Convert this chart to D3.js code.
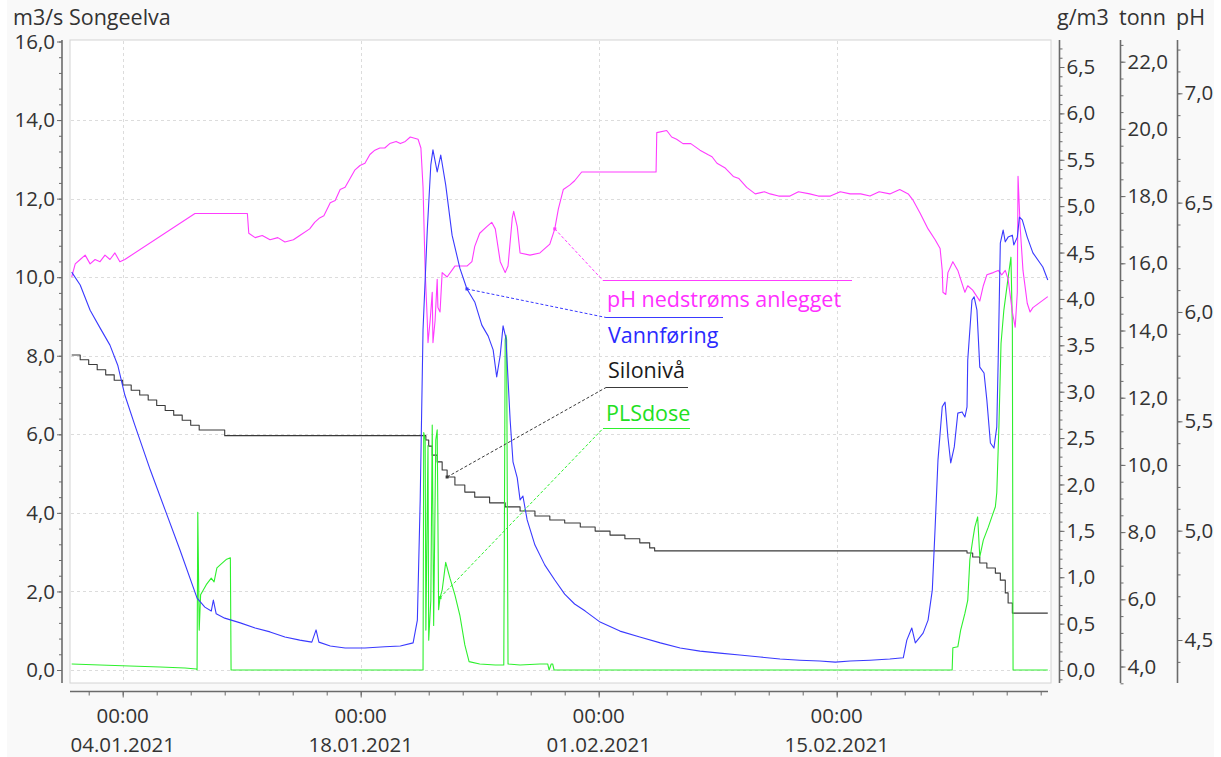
<!DOCTYPE html>
<html>
<head>
<meta charset="utf-8">
<script src="https://cdn.jsdelivr.net/npm/d3@7"></script>
<style>
  html, body { margin: 0; padding: 0; background: #ffffff; }
  svg { display: block; font-family: "Open Sans", "Noto Sans", sans-serif; }
</style>
</head>
<body>
<svg id="chart" width="1221" height="757"></svg>
<script>
// ---- Data: Songeelva, 01.01.2021 - 27.02.2021 (time "DD.MM HH", value) ----
const vannforing = [ // m3/s
  ["01.01 00",10.13],["01.01 12",9.80],["02.01 02",9.16],["02.01 16",8.71],["03.01 06",8.27],["03.01 17",7.76],
  ["04.01 03",7.00],["04.01 17",6.24],["05.01 15",5.09],["06.01 12",4.07],["07.01 09",3.05],["08.01 09",1.83],
  ["08.01 20",1.60],["09.01 05",1.50],["09.01 08",1.78],["09.01 12",1.43],["10.01 00",1.32],["10.01 22",1.20],
  ["11.01 19",1.07],["12.01 16",0.97],["13.01 13",0.84],["14.01 10",0.76],["15.01 03",0.71],["15.01 09",1.02],
  ["15.01 13",0.71],["16.01 05",0.61],["17.01 02",0.56],["18.01 06",0.56],["19.01 10",0.59],["20.01 08",0.61],
  ["21.01 02",0.69],["21.01 08",1.27],["21.01 12",4.33],["21.01 16",8.66],["21.01 22",11.20],["22.01 03",12.86],
  ["22.01 06",13.24],["22.01 12",12.68],["22.01 17",13.11],["23.01 00",12.35],["23.01 09",11.07],["23.01 20",10.23],
  ["24.01 06",9.70],["24.01 17",9.37],["25.01 03",8.78],["25.01 12",8.50],["25.01 19",8.15],["26.01 00",7.46],
  ["26.01 05",8.02],["26.01 09",8.76],["26.01 13",8.45],["26.01 19",6.36],["26.01 23",5.30],["27.01 05",4.89],
  ["27.01 09",4.33],["27.01 13",4.43],["27.01 19",3.82],["28.01 06",3.18],["28.01 20",2.67],["29.01 10",2.29],
  ["30.01 00",1.93],["30.01 14",1.68],["31.01 05",1.50],["01.02 02",1.22],["02.02 06",0.99],["03.02 10",0.84],
  ["04.02 15",0.69],["05.02 19",0.56],["06.02 23",0.48],["08.02 03",0.43],["09.02 07",0.38],["10.02 12",0.33],
  ["11.02 16",0.28],["12.02 20",0.25],["14.02 00",0.23],["14.02 22",0.20],["15.02 19",0.23],["16.02 23",0.25],
  ["18.02 03",0.28],["18.02 22",0.31],["19.02 03",0.76],["19.02 10",1.07],["19.02 15",0.69],["20.02 02",0.94],
  ["20.02 09",1.27],["20.02 15",2.04],["20.02 19",3.64],["20.02 23",5.35],["21.02 05",6.70],["21.02 09",6.82],
  ["21.02 13",5.93],["21.02 17",5.27],["21.02 22",5.68],["22.02 03",6.54],["22.02 09",6.57],["22.02 13",6.44],
  ["22.02 16",6.70],["22.02 17",7.89],["22.02 23",9.42],["23.02 02",9.50],["23.02 06",9.16],["23.02 10",7.71],
  ["23.02 16",7.56],["23.02 20",6.87],["24.02 01",5.78],["24.02 06",5.65],["24.02 10",6.19],["24.02 12",7.89],
  ["24.02 15",10.87],["24.02 19",11.20],["24.02 22",10.90],["25.02 02",11.02],["25.02 08",11.07],["25.02 10",10.82],
  ["25.02 15",11.02],["25.02 18",11.53],["25.02 22",11.46],["26.02 05",11.02],["26.02 13",10.62],["27.02 03",10.26],
  ["27.02 10",9.93]
];

const phNedstroms = [ // pH
  ["01.01 00",6.16],["01.01 05",6.22],["01.01 12",6.24],["01.01 19",6.26],["02.01 02",6.22],["02.01 09",6.24],
  ["02.01 16",6.23],["02.01 23",6.26],["03.01 06",6.24],["03.01 13",6.27],["03.01 20",6.23],["04.01 03",6.24],
  ["08.01 06",6.45],["11.01 08",6.45],["11.01 10",6.36],["11.01 19",6.34],["12.01 05",6.35],["12.01 16",6.33],
  ["13.01 03",6.34],["13.01 13",6.32],["14.01 01",6.33],["14.01 10",6.35],["15.01 00",6.38],["15.01 07",6.41],
  ["15.01 14",6.43],["15.01 20",6.44],["16.01 05",6.50],["16.01 12",6.51],["16.01 19",6.56],["17.01 02",6.57],
  ["17.01 09",6.61],["17.01 16",6.65],["17.01 23",6.67],["18.01 06",6.68],["18.01 13",6.72],["18.01 20",6.74],
  ["19.01 03",6.75],["19.01 10",6.75],["19.01 17",6.77],["20.01 02",6.78],["20.01 08",6.77],["20.01 15",6.78],
  ["20.01 22",6.80],["21.01 09",6.79],["21.01 13",6.75],["21.01 16",6.57],
  ["21.01 19",6.19],["21.01 22",5.96],["21.01 23",5.86],["22.01 02",5.96],["22.01 05",6.09],["22.01 06",5.86],
  ["22.01 09",5.96],["22.01 12",6.15],["22.01 13",6.02],["22.01 16",6.00],["22.01 19",6.18],["23.01 02",6.16],
  ["23.01 13",6.21],["24.01 06",6.21],["24.01 13",6.23],["24.01 17",6.30],["25.01 00",6.36],["25.01 10",6.39],
  ["25.01 17",6.41],["25.01 22",6.38],["26.01 05",6.23],["26.01 12",6.18],["26.01 16",6.21],["26.01 22",6.43],
  ["27.01 00",6.46],["27.01 05",6.39],["27.01 09",6.27],["27.01 23",6.26],["28.01 13",6.27],["29.01 03",6.31],
  ["29.01 10",6.38],["29.01 15",6.47],["29.01 22",6.56],["30.01 07",6.58],["30.01 14",6.60],["31.01 00",6.64],
  ["04.02 09",6.64],["04.02 10",6.82],["05.02 00",6.83],["05.02 07",6.80],["05.02 14",6.79],["05.02 23",6.77],
  ["06.02 10",6.77],["06.02 23",6.74],["07.02 10",6.72],["07.02 16",6.71],["07.02 23",6.68],["08.02 10",6.66],
  ["08.02 22",6.62],["09.02 06",6.61],["09.02 17",6.57],["10.02 05",6.54],["10.02 18",6.55],["11.02 02",6.54],
  ["11.02 14",6.53],["12.02 06",6.53],["12.02 18",6.55],["13.02 10",6.54],["13.02 22",6.53],["14.02 15",6.53],
  ["15.02 05",6.55],["15.02 19",6.54],["16.02 10",6.54],["16.02 23",6.53],["17.02 12",6.55],["18.02 03",6.54],
  ["18.02 17",6.56],
  ["19.02 05",6.54],["19.02 12",6.51],["19.02 22",6.45],["20.02 09",6.38],["20.02 19",6.33],["21.02 02",6.29],
  ["21.02 05",6.19],["21.02 06",6.09],["21.02 10",6.08],["21.02 13",6.18],["21.02 20",6.23],["22.02 03",6.19],
  ["22.02 09",6.13],["22.02 13",6.09],["22.02 17",6.12],["23.02 00",6.10],["23.02 06",6.07],["23.02 10",6.05],
  ["23.02 15",6.12],["23.02 20",6.17],["24.02 05",6.18],["24.02 12",6.19],["24.02 17",6.17],["24.02 22",6.19],
  ["25.02 02",6.15],["25.02 08",6.00],["25.02 12",5.93],["25.02 15",6.09],["25.02 16",6.62],["25.02 19",6.39],
  ["25.02 23",6.19],["26.02 05",6.04],["26.02 09",6.00],["26.02 13",6.02],["27.02 10",6.07]
];

const plsDose = [ // g/m3
  ["01.01 00",0.065],["02.01 16",0.054],["04.01 10",0.043],["06.01 05",0.032],["07.01 16",0.022],["08.01 08",0.011],
  ["08.01 09",0],["08.01 10",1.70],["08.01 12",0.43],["08.01 14",0.81],["08.01 22",0.92],["09.01 05",0.99],
  ["09.01 09",0.95],["09.01 13",1.10],["09.01 20",1.15],["10.01 02",1.19],["10.01 08",1.21],["10.01 09",0],
  ["21.01 16",0],["21.01 17",2.56],["21.01 19",2.48],["21.01 20",0.43],["21.01 23",2.42],["22.01 00",0.32],
  ["22.01 03",0.75],["22.01 05",2.64],["22.01 07",0.48],["22.01 10",2.48],["22.01 12",2.59],["22.01 14",0.65],
  ["22.01 16",0.78],["22.01 19",0.86],["23.01 00",1.16],["23.01 06",0.99],["23.01 13",0.81],["23.01 20",0.59],
  ["24.01 03",0.27],["24.01 09",0.09],["25.01 00",0.065],["25.01 22",0.054],["26.01 10",0.054],["26.01 12",3.56],
  ["26.01 13",3.61],["26.01 14",3.56],["26.01 16",0.065],["27.01 09",0.054],["28.01 13",0.065],["29.01 00",0.065],
  ["29.01 02",0],["29.01 05",0.065],["29.01 07",0.065],["29.01 09",0],["21.02 19",0],["21.02 20",0.24],
  ["22.02 03",0.25],["22.02 07",0.43],["22.02 13",0.61],["22.02 17",0.75],["22.02 20",1.19],["23.02 00",1.40],
  ["23.02 03",1.54],["23.02 07",1.65],["23.02 10",1.22],["23.02 15",1.40],["23.02 22",1.54],["24.02 03",1.65],
  ["24.02 08",1.76],["24.02 10",1.91],["24.02 13",2.62],["24.02 16",3.52],["24.02 20",3.88],["25.02 02",4.23],
  ["25.02 06",4.45],["25.02 08",3.70],["25.02 09",0],["27.02 10",0]
];

const silonivaa = [ // tonn
  ["01.01 00",13.27],["01.01 12",13.13],["02.01 00",12.99],["02.01 12",12.83],["03.01 00",12.68],["03.01 12",12.52],
  ["04.01 00",12.38],["04.01 12",12.22],["05.01 00",12.08],["05.01 12",11.93],["06.01 00",11.77],["06.01 12",11.62],
  ["07.01 00",11.48],["07.01 12",11.33],["08.01 00",11.18],["08.01 12",11.04],["10.01 00",10.87],["21.01 16",10.87],
  ["21.01 20",10.74],["22.01 00",10.56],["22.01 05",10.29],["22.01 12",10.09],["22.01 19",9.85],["23.01 02",9.64],
  ["23.01 13",9.40],["24.01 03",9.19],["24.01 17",9.04],["25.01 14",8.87],["26.01 12",8.75],["27.01 09",8.63],
  ["28.01 06",8.48],["29.01 03",8.36],["30.01 00",8.27],["30.01 22",8.15],["31.01 19",8.03],["01.02 16",7.91],
  ["02.02 13",7.80],["03.02 10",7.68],["04.02 00",7.53],["04.02 07",7.44],["22.02 09",7.44],["22.02 16",7.38],
  ["23.02 00",7.26],["23.02 10",7.08],["23.02 20",6.93],["24.02 08",6.78],["24.02 15",6.57],["24.02 22",6.19],
  ["25.02 02",5.89],["25.02 08",5.59],["27.02 10",5.59]
];

// Axis ticks
const leftTicks = [0, 2, 4, 6, 8, 10, 12, 14, 16];
const doseTicks = [0, 0.5, 1, 1.5, 2, 2.5, 3, 3.5, 4, 4.5, 5, 5.5, 6, 6.5];
const tonnTicks = [4, 6, 8, 10, 12, 14, 16, 18, 20, 22];
const phTicks = [4.5, 5, 5.5, 6, 6.5, 7];
const xTickLabels = ["04.01.2021", "18.01.2021", "01.02.2021", "15.02.2021"];
const xTickTime = "00:00";

// Series labels: name, series, anchor time
const seriesLabels = [
  { name: "pH nedstrøms anlegget", key: "ph",   at: "29.01 10" },
  { name: "Vannføring",            key: "vann", at: "24.01 06" },
  { name: "Silonivå",              key: "silo", at: "23.01 02" },
  { name: "PLSdose",               key: "pls",  at: "22.01 16" }
];

// ---- Layout ----
const W = 1221, H = 757;
const frame = { left: 70, right: 1051, top: 40, bottom: 683 };
const colors = { vann: "#3a3aff", ph: "#ff3cff", pls: "#2ef02e", silo: "#3a3a3a" };
const textColors = { vann: "#2a2aff", ph: "#ff30ff", pls: "#22e022", silo: "#1a1a1a" };
const axisColor = "#6b6b6b";
const textColor = "#333333";
const numSize = 20.5;   // tick numbers and dates
const wordSize = 21.5;  // headers and series names

const parseT = d3.timeParse("%d.%m.%Y %H");
const toDate = s => parseT(s.replace(" ", ".2021 "));
const prep = arr => arr.map(([t, v]) => ({ t: toDate(t), v }));
const series = {
  vann: prep(vannforing), ph: prep(phNedstroms), pls: prep(plsDose), silo: prep(silonivaa)
};

const fmt = v => d3.format(".1f")(v).replace(".", ",");

const x = d3.scaleTime()
  .domain([new Date(2020, 11, 31, 21, 36), new Date(2021, 1, 27, 14, 33)])
  .range([frame.left, frame.right]);
const yLeft = d3.scaleLinear().domain([0, 16]).range([670, 41.5]);
const yDose = d3.scaleLinear().domain([0, 6.5]).range([670, 67]);
const yTonn = d3.scaleLinear().domain([4, 22]).range([666.5, 61.7]);
const yPh   = d3.scaleLinear().domain([4.5, 7]).range([640, 93.3]);
const yOf = { vann: yLeft, ph: yPh, pls: yDose, silo: yTonn };

const svg = d3.select("#chart");

// background and plot frame
svg.append("rect").attr("x", 7).attr("y", 0).attr("width", W - 14).attr("height", H)
  .attr("fill", "#f9f9f9");
svg.append("rect")
  .attr("x", frame.left).attr("y", frame.top)
  .attr("width", frame.right - frame.left).attr("height", frame.bottom - frame.top)
  .attr("fill", "#ffffff").attr("stroke", "#d4d4d4").attr("stroke-width", 1);

// grid
const majorDates = xTickLabels.map(s => d3.timeParse("%d.%m.%Y")(s));
const grid = svg.append("g").attr("stroke", "#dcdcdc").attr("stroke-dasharray", "3,3").attr("stroke-width", 1);
grid.selectAll("line.h").data(leftTicks.filter(v => v < 16)).join("line")
  .attr("x1", frame.left + 1).attr("x2", frame.right - 1)
  .attr("y1", d => Math.round(yLeft(d)) + 0.5).attr("y2", d => Math.round(yLeft(d)) + 0.5);
grid.selectAll("line.v").data(majorDates).join("line")
  .attr("x1", d => Math.round(x(d)) + 0.5).attr("x2", d => Math.round(x(d)) + 0.5)
  .attr("y1", frame.top + 1).attr("y2", frame.bottom - 1);

// axes helper
function styleAxis(g) {
  g.select(".domain").remove();
  g.selectAll(".tick line").attr("stroke", axisColor).attr("stroke-width", 1);
  g.selectAll(".tick text").attr("fill", textColor).attr("font-size", numSize)
    .attr("font-family", "\"Open Sans\", \"Noto Sans\", sans-serif");
}
function vAxis(xPos, scale, major, minorStep, minorRange, side) {
  const g = svg.append("g");
  g.append("line").attr("x1", xPos).attr("x2", xPos).attr("y1", frame.top).attr("y2", frame.bottom)
    .attr("stroke", axisColor).attr("stroke-width", 1.6);
  const minor = d3.range(minorRange[0], minorRange[1] + 1e-9, minorStep);
  const mk = side === "left" ? d3.axisLeft : d3.axisRight;
  g.append("g").attr("transform", `translate(${xPos},0)`)
    .call(mk(scale).tickValues(minor).tickSize(3).tickFormat(""))
    .call(styleAxis);
  g.append("g").attr("transform", `translate(${xPos},0)`)
    .call(mk(scale).tickValues(major).tickSize(5).tickPadding(2).tickFormat(fmt))
    .call(styleAxis);
}
vAxis(62, yLeft, leftTicks, 0.4, [0, 16], "left");
vAxis(1059.5, yDose, doseTicks, 0.1, [-0.1, 6.7], "right");
vAxis(1120.5, yTonn, tonnTicks, 0.5, [3.5, 22.5], "right");
vAxis(1177.5, yPh, phTicks, 0.1, [4.4, 7.2], "right");

// x axis
const xg = svg.append("g");
const xAxisY = 691.5;
xg.append("line").attr("x1", frame.left).attr("x2", 1048).attr("y1", xAxisY).attr("y2", xAxisY)
  .attr("stroke", axisColor).attr("stroke-width", 1.6);
const minorDates = d3.timeDay.range(new Date(2021, 0, 2), new Date(2021, 1, 28), 2);
xg.append("g").attr("transform", `translate(0,${xAxisY})`)
  .call(d3.axisBottom(x).tickValues(minorDates).tickSize(4).tickFormat(""))
  .call(styleAxis);
xg.append("g").attr("transform", `translate(0,${xAxisY})`)
  .call(d3.axisBottom(x).tickValues(majorDates).tickSize(6).tickFormat(""))
  .call(styleAxis);
const xl = xg.selectAll("g.xl").data(majorDates).join("g")
  .attr("transform", d => `translate(${x(d)},0)`);
xl.append("text").attr("y", 723).attr("text-anchor", "middle").attr("fill", textColor)
  .attr("font-size", numSize).text(xTickTime);
xl.append("text").attr("y", 752).attr("text-anchor", "middle").attr("fill", textColor)
  .attr("font-size", numSize).text((d, i) => xTickLabels[i]);

// unit headers
const headers = [
  { t: "m3/s Songeelva", x: 13 }, { t: "g/m3", x: 1057 }, { t: "tonn", x: 1119 }, { t: "pH", x: 1176 }
];
svg.selectAll("text.hdr").data(headers).join("text")
  .attr("x", d => d.x).attr("y", 25).attr("fill", textColor).attr("font-size", wordSize).text(d => d.t);

// series lines
svg.append("clipPath").attr("id", "plotclip").append("rect")
  .attr("x", frame.left).attr("y", frame.top)
  .attr("width", frame.right - frame.left).attr("height", frame.bottom - frame.top);
const plot = svg.append("g").attr("clip-path", "url(#plotclip)");
const order = ["silo", "pls", "ph", "vann"];
order.forEach(k => {
  const line = d3.line().x(d => x(d.t)).y(d => yOf[k](d.v))
    .curve(k === "silo" ? d3.curveStepAfter : d3.curveLinear);
  plot.append("path").datum(series[k]).attr("d", line)
    .attr("fill", "none").attr("stroke", colors[k]).attr("stroke-width", 1.1)
    .attr("stroke-linejoin", "round");
});

// series labels with leader lines
const labelBoxes = {
  ph:   { tx: 607, ty: 307, ly: 280.5, lx0: 603, lx1: 852 },
  vann: { tx: 608, ty: 343, ly: 317.5, lx0: 606, lx1: 723 },
  silo: { tx: 608, ty: 378, ly: 387.5, lx0: 606, lx1: 688 },
  pls:  { tx: 606, ty: 421, ly: 428.5, lx0: 603, lx1: 690 }
};
const lab = svg.append("g");
seriesLabels.forEach(s => {
  const b = labelBoxes[s.key];
  const t = toDate(s.at);
  const pt = series[s.key].find(d => +d.t === +t);
  const ax = x(pt.t), ay = yOf[s.key](pt.v);
  lab.append("line").attr("x1", ax).attr("y1", ay).attr("x2", b.lx0).attr("y2", b.ly)
    .attr("stroke", colors[s.key]).attr("stroke-width", 1).attr("stroke-dasharray", "3,2");
  lab.append("line").attr("x1", b.lx0).attr("x2", b.lx1).attr("y1", b.ly).attr("y2", b.ly)
    .attr("stroke", colors[s.key]).attr("stroke-width", 1);
  lab.append("rect").attr("x", ax - 1.5).attr("y", ay - 1.5).attr("width", 3).attr("height", 3)
    .attr("fill", colors[s.key]);
  lab.append("text").attr("x", b.tx).attr("y", b.ty).attr("fill", textColors[s.key])
    .attr("font-size", wordSize).text(s.name);
});
</script>
</body>
</html>
